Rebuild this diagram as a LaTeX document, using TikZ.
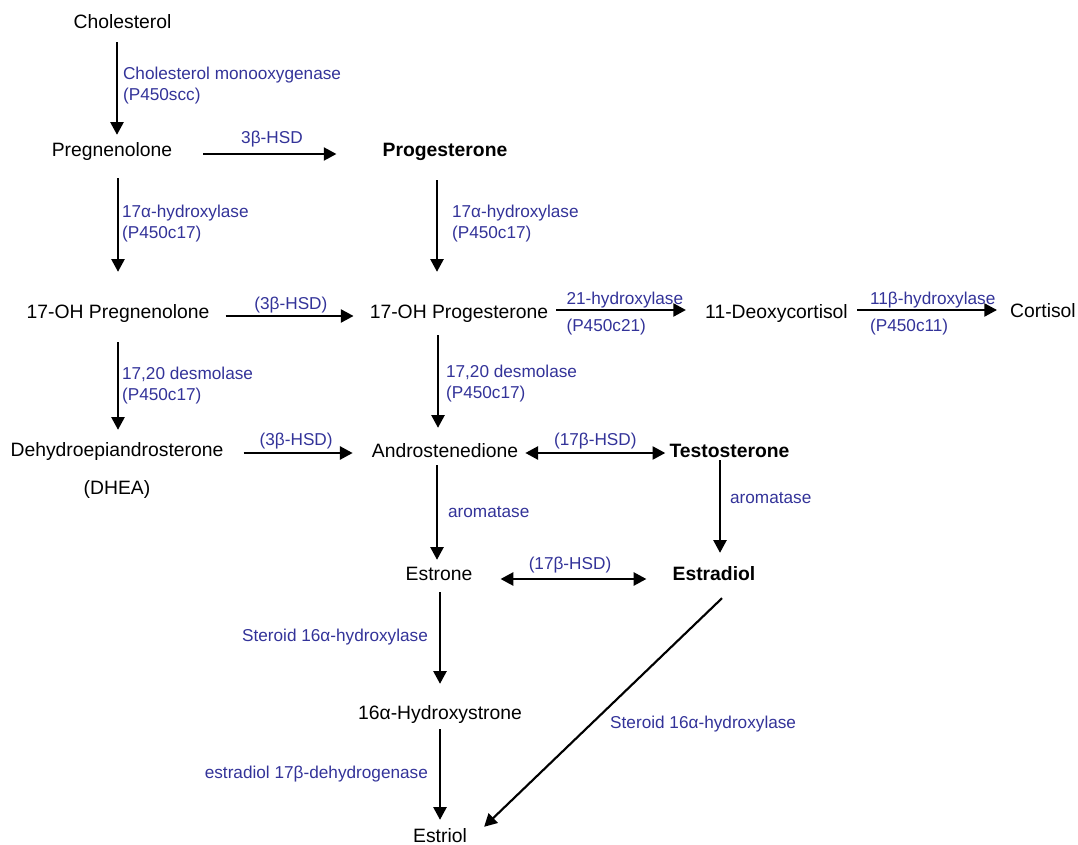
\documentclass[tikz,border=0pt]{standalone}
\usepackage{fontspec}
\setmainfont{Liberation Sans}
\usepackage{tikz}
\usepackage{xcolor}
\usetikzlibrary{arrows.meta, calc}
\definecolor{myblue}{RGB}{51, 51, 153}

\begin{document}
\begin{tikzpicture}[x=0.75pt,y=-0.75pt,
          cmpd/.style={inner sep=0pt,text height=10.4pt,text depth=0pt,
                       font=\fontsize{14.5}{17}\selectfont},
          enz/.style={inner sep=0pt,text=myblue,align=left,
                      font=\fontsize{12.9}{15.75}\selectfont},
          rxn/.style={-{Triangle[length=9.5pt,width=9.8pt]},line width=1.6pt},
          rev/.style={{Triangle[length=9.5pt,width=9.8pt]}-{Triangle[length=9.5pt,width=9.8pt]},
                      line width=1.6pt}]
        \useasboundingbox (0,0) rectangle (1078,845);
        % compounds
        \node[cmpd](chol)  at (122.5,22) {Cholesterol};
        \node[cmpd](preg)  at (112,150)  {Pregnenolone};
        \node[cmpd](prog)  at (445,150)  {\bfseries Progesterone};
        \node[cmpd](ohpreg) at (118,312) {17-OH Pregnenolone};
        \node[cmpd](ohprog) at (459,312) {17-OH Progesterone};
        \node[cmpd](deoxy) at (776.5,312) {11-Deoxycortisol};
        \node[cmpd](cort)  at (1043,311) {Cortisol};
        \node[cmpd](dhea)  at (117,450)  {Dehydroepiandrosterone};
        \node[cmpd](dheaab) at (117,488) {(DHEA)};
        \node[cmpd](andro) at (445,451)  {Androstenedione};
        \node[cmpd](testo) at (729.5,451) {\bfseries Testosterone};
        \node[cmpd](estrone) at (439,574) {Estrone};
        \node[cmpd](estradiol) at (714,574) {\bfseries Estradiol};
        \node[cmpd](hydroxy) at (440,713) {16α-Hydroxystrone};
        \node[cmpd](estriol) at (440,836) {Estriol};
        % vertical steps
        \draw[rxn]($(chol.south)+(-5.5,13)$)--($(preg.north)+(5,-8)$)
          node[enz,midway,anchor=west,xshift=3.75pt,yshift=1.9pt]
          {Cholesterol monooxygenase\\(P450scc)};
        \draw[rxn]($(preg.south)+(6,21)$)--($(ohpreg.north)+(0,-33)$)
          node[enz,midway,anchor=west,xshift=2.25pt,yshift=0.8pt]
          {17α-hydroxylase\\(P450c17)};
        \draw[rxn]($(prog.south)+(-8,23)$)--($(ohprog.north)+(-22,-33)$)
          node[enz,midway,anchor=west,xshift=10.5pt,yshift=1.5pt]
          {17α-hydroxylase\\(P450c17)};
        \draw[rxn]($(ohpreg.south)+(0,23)$)--($(dhea.north)+(1,-13)$)
          node[enz,midway,anchor=west,xshift=2.25pt,yshift=0pt]
          {17,20 desmolase\\(P450c17)};
        \draw[rxn]($(ohprog.south)+(-21,16)$)--($(andro.north)+(-7,-16)$)
          node[enz,midway,anchor=west,xshift=5.25pt,yshift=-1.9pt]
          {17,20 desmolase\\(P450c17)};
        \draw[rxn]($(andro.south)+(-8,7)$)--($(estrone.north)+(-2,-7)$)
          node[enz,midway,anchor=west,xshift=7.5pt]{aromatase};
        \draw[rxn]($(testo.south)+(-9.5,2)$)--($(estradiol.north)+(6,-14)$)
          node[enz,midway,anchor=west,xshift=6.75pt,yshift=6pt]{aromatase};
        \draw[rxn]($(estrone.south)+(1,11)$)--($(hydroxy.north)+(0,-22)$)
          node[enz,midway,anchor=east,xshift=-8.25pt,yshift=1pt]
          {Steroid 16α-hydroxylase};
        \draw[rxn]($(hydroxy.south)+(0,9)$)--($(estriol.north)+(0,-9)$)
          node[enz,midway,anchor=east,xshift=-8.25pt,yshift=0.5pt]
          {estradiol 17β-dehydrogenase};
        % horizontal steps
        \draw[rxn]($(preg.east)+(31,4)$)--($(prog.west)+(-46,4)$)
          node[enz,midway,above=4.5pt,xshift=1.5pt]{3β-HSD};
        \draw[rxn]($(ohpreg.east)+(16,4)$)--($(ohprog.west)+(-16,4)$)
          node[enz,midway,above=1.5pt,xshift=1pt]{(3β-HSD)};
        \draw[rxn]($(ohprog.east)+(8,-2)$)--($(deoxy.west)+(-19,-2)$)
          node[enz,pos=0,anchor=base west,xshift=6.75pt,yshift=4.5pt]{21-hydroxylase}
          node[enz,pos=0,anchor=base west,xshift=6.75pt,yshift=-15.9pt]{(P450c21)};
        \draw[rxn]($(deoxy.east)+(9,-2)$)--($(cort.west)+(-13,-1)$)
          node[enz,pos=0,anchor=base west,xshift=9pt,yshift=4.5pt]{11β-hydroxylase}
          node[enz,pos=0,anchor=base west,xshift=9pt,yshift=-15.9pt]{(P450c11)};
        \draw[rxn]($(dhea.east)+(20,3)$)--($(andro.west)+(-19,2)$)
          node[enz,midway,above=2.4pt,xshift=-1.5pt]{(3β-HSD)};
        \draw[rev]($(andro.east)+(7,2)$)--($(testo.west)+(-4,2)$)
          node[enz,midway,above=2.4pt]{(17β-HSD)};
        \draw[rev]($(estrone.east)+(28,5)$)--($(estradiol.west)+(-26,5)$)
          node[enz,midway,above=3.9pt,xshift=-2.6pt]{(17β-HSD)};
        % estradiol to estriol
        \draw[rxn]($(estradiol.south)+(8,17)$)--($(estriol.north east)+(17,-2)$)
          node[enz,pos=.55,anchor=west,xshift=13.5pt]{Steroid 16α-hydroxylase};
      \end{tikzpicture}
\end{document}
